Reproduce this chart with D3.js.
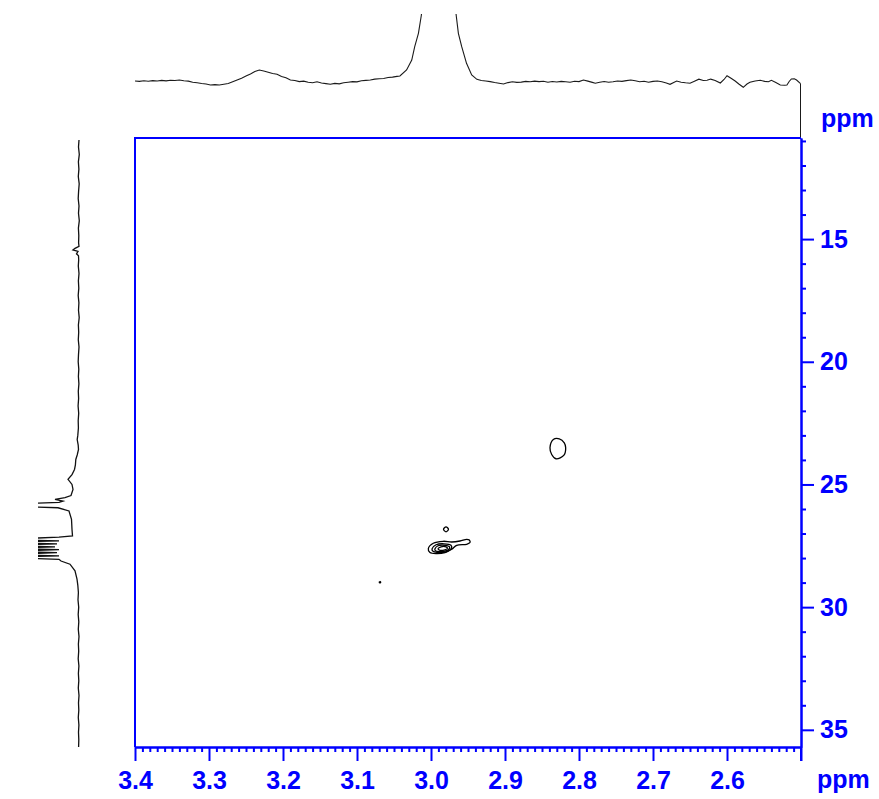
<!DOCTYPE html>
<html>
<head>
<meta charset="utf-8">
<title>HSQC</title>
<script src="https://cdn.jsdelivr.net/npm/d3@7"></script>
<style>
  body { margin: 0; background: #fff; }
  svg text { font-family: "Liberation Sans", Arial, Helvetica, sans-serif; font-weight: bold; fill: #0000ff; }
</style>
</head>
<body>
<div id="chart"></div>
<script>
// --- data ---
var hDomain = [3.4, 2.5];          // 1H ppm, left -> right
var cDomain = [10.88, 35.7];       // 13C ppm, top -> bottom
var hMajor = [3.4, 3.3, 3.2, 3.1, 3.0, 2.9, 2.8, 2.7, 2.6, 2.5];
var cMajor = [15, 20, 25, 30, 35];
var unitLabel = "ppm";

// projection on top: [1H ppm, intensity]
var topTrace = [
  [3.400, 1.0], [3.394, 0.6], [3.388, 1.2], [3.382, 0.7], [3.376, 1.4], [3.370, 1.0],
  [3.364, 1.6], [3.358, 1.1], [3.352, 1.8], [3.346, 1.5], [3.340, 2.0], [3.334, 1.2],
  [3.328, 0.9], [3.322, -0.2], [3.316, -0.8], [3.310, -1.5], [3.304, -2.0], [3.298, -3.0],
  [3.292, -2.6], [3.286, -3.0], [3.280, -2.2], [3.274, -1.5], [3.268, 0.2], [3.262, 2.0],
  [3.256, 3.8], [3.250, 6.0], [3.244, 8.0], [3.238, 10.5], [3.232, 12.0], [3.226, 11.0],
  [3.220, 9.8], [3.214, 8.5], [3.208, 7.8], [3.202, 5.5], [3.196, 4.2], [3.190, 2.0],
  [3.184, 1.5], [3.178, 0.4], [3.172, 0.9], [3.166, -0.3], [3.160, -0.7], [3.154, 0.2],
  [3.148, -1.0], [3.142, -1.6], [3.136, -2.3], [3.130, -1.4], [3.124, -1.9], [3.118, -0.8],
  [3.112, -0.2], [3.106, 0.4], [3.100, 0.1], [3.094, 1.2], [3.088, 1.6], [3.082, 2.0],
  [3.076, 2.9], [3.070, 3.2], [3.064, 3.5], [3.058, 4.5], [3.052, 4.9], [3.046, 5.6],
  [3.042, 6.0], [3.033, 12], [3.026, 22], [3.022, 35.3], [3.017, 48.7], [3.013, 67],
  [3.008, 110], [2.999, 200], [2.989, 260], [2.980, 200], [2.971, 110],
  [2.966, 67], [2.963, 48.7], [2.9585, 35.3], [2.952, 18.7], [2.945, 7],
  [2.938, 2.7], [2.932, 1.5], [2.926, 1.0], [2.920, 0.4], [2.914, -0.5], [2.908, -1.2],
  [2.902, -2.0], [2.896, -0.6], [2.890, 0.3], [2.884, -0.4], [2.878, -0.1], [2.872, 0.6],
  [2.866, 0.2], [2.860, 0.9], [2.854, 0.4], [2.848, 0.7], [2.842, -0.2], [2.836, 0.5],
  [2.830, 0.0], [2.824, 0.6], [2.818, 0.2], [2.812, -0.3], [2.806, 0.8], [2.800, 0.4],
  [2.794, 2.0], [2.788, 0.9], [2.782, -0.4], [2.778, -1.3], [2.772, -0.2], [2.766, 0.5],
  [2.760, -0.3], [2.754, 0.2], [2.748, 1.0], [2.742, 0.6], [2.736, 1.4], [2.730, 2.0],
  [2.724, 1.2], [2.718, 0.3], [2.712, 0.8], [2.706, -0.3], [2.700, 0.6], [2.694, 1.0],
  [2.688, 0.2], [2.682, -1.0], [2.677, -2.3], [2.672, -0.4], [2.668, 1.0], [2.662, -0.2],
  [2.656, -0.8], [2.650, -1.3], [2.644, 0.8], [2.638, 2.8], [2.632, 1.5], [2.627, 1.7],
  [2.622, 2.9], [2.616, 1.6], [2.609, -1.0], [2.604, 2.5], [2.600, 6.3], [2.594, 3.5],
  [2.589, 1.0], [2.584, -2.0], [2.578, -5.3], [2.573, -2.0], [2.569, -0.3], [2.562, 1.0],
  [2.555, 1.7], [2.549, 0.6], [2.544, 0.3], [2.540, 1.7], [2.534, -0.5], [2.528, -3.0],
  [2.522, -3.2], [2.519, -3.0], [2.516, 0.5], [2.513, 3.0], [2.509, 3.2], [2.506, 2.0],
  [2.501, -1.3]
];

// projection on the left: [13C ppm, intensity]
var leftTrace = [
  [10.96, 0], [11.25, 0.5], [11.55, -0.3], [11.85, 0.6], [12.15, 0.1], [12.45, 0.7],
  [12.75, -0.2], [13.05, 0.4], [13.35, 0.8], [13.65, 0.0], [13.95, 0.5], [14.25, -0.3],
  [14.55, 0.6], [14.85, 0.2], [15.15, 0.4], [15.30, 0], [15.38, 4], [15.44, 6],
  [15.50, 1], [15.60, 2.5], [15.68, 0.5], [15.84, 0.3], [16.10, 0.7], [16.40, 0.0],
  [16.70, 0.6], [17.00, 0.2], [17.30, 0.8], [17.60, 0.1], [17.90, 0.5], [18.20, -0.2],
  [18.50, 0.6], [18.80, 0.3], [19.10, 0.7], [19.40, 0.0], [19.70, 0.5], [20.00, 0.8],
  [20.30, 0.2], [20.60, 0.6], [20.90, 0.1], [21.20, 0.7], [21.50, 0.4], [21.80, 0.9],
  [22.10, 0.3], [22.40, 0.8], [22.70, 0.6], [23.00, 1.2], [23.17, 1.8], [23.40, 0.8],
  [23.57, 0.5], [23.80, 1.8], [23.98, 3.2], [24.20, 3.6], [24.39, 4.5],
  [24.60, 7], [24.79, 11], [25.00, 7], [25.20, 6], [25.45, 8], [25.54, 14],
  [25.61, 24], [25.68, 16], [25.73, 20], [25.81, 80], [25.87, 80], [25.95, 21],
  [26.08, 10], [26.42, 7.5], [26.83, 7], [27.10, 6.5], [27.15, 20], [27.24, 80],
  [27.30, 20], [27.36, 80], [27.42, 22], [27.48, 80], [27.54, 24], [27.60, 80],
  [27.66, 20], [27.72, 80], [27.78, 22], [27.85, 80], [27.91, 20], [27.97, 80],
  [28.05, 20], [28.12, 18], [28.25, 9], [28.52, 4], [28.86, 2], [29.10, 1.2],
  [29.40, 0.6], [29.70, 1.0], [30.00, 0.3], [30.30, 0.8], [30.60, 0.2], [30.90, 0.7],
  [31.20, 0.0], [31.50, 0.6], [31.80, 0.3], [32.10, 0.8], [32.40, 0.1], [32.70, 0.6],
  [33.00, 0.2], [33.30, 0.7], [33.60, 0.0], [33.90, 0.5], [34.20, 0.2], [34.50, 0.7],
  [34.80, 0.1], [35.10, 0.5], [35.40, 0.2], [35.70, 0.4]
];

// contour polygons: [1H ppm, 13C ppm]
var peakA = [
  [2.8347, 23.165], [2.8266, 23.138], [2.8199, 23.301], [2.8180, 23.504],
  [2.8203, 23.805], [2.8311, 23.952], [2.8369, 23.777], [2.8392, 23.504]
];
var peakBouter = [
  [3.0036, 27.613], [2.9969, 27.398], [2.9834, 27.316], [2.9720, 27.345],
  [2.9608, 27.304], [2.9518, 27.235], [2.9482, 27.263], [2.9473, 27.369],
  [2.9518, 27.438], [2.9653, 27.479], [2.9720, 27.642], [2.9811, 27.776],
  [2.9923, 27.817], [3.0014, 27.776]
];
var peakB2 = [
  [2.9986, 27.621], [2.9932, 27.458], [2.9824, 27.418], [2.9730, 27.479],
  [2.9723, 27.601], [2.9797, 27.743], [2.9919, 27.764], [2.9973, 27.723]
];
var peakB3 = [
  [2.9946, 27.621], [2.9905, 27.499], [2.9811, 27.479], [2.9750, 27.540],
  [2.9757, 27.642], [2.9824, 27.723], [2.9919, 27.723], [2.9946, 27.682]
];
var peakB4 = [
  [2.9905, 27.621], [2.9865, 27.540], [2.9797, 27.540], [2.9777, 27.601],
  [2.9811, 27.662], [2.9878, 27.682]
];
var peakC = [
  [2.9831, 26.828], [2.9797, 26.726], [2.9764, 26.828], [2.9797, 26.930]
];
var peakD = [
  [3.0699, 28.985], [3.0690, 28.956], [3.0680, 28.985], [3.0690, 29.013]
];
var contourSet = [peakA, peakBouter, peakB2, peakB3, peakB4, peakC, peakD];

// --- layout ---
var width = 879, height = 799;
var blue = "#0000ff";

var svg = d3.select("#chart").append("svg")
    .attr("width", width)
    .attr("height", height);

var hx = d3.scaleLinear().domain(hDomain).range([135, 801]);
var cy = d3.scaleLinear().domain(cDomain).range([138, 747]);
var topY = d3.scaleLinear().domain([0, 67]).range([82, 15]);
var leftX = d3.scaleLinear().domain([0, 41]).range([79, 38]);

var defs = svg.append("defs");
defs.append("clipPath").attr("id", "clipTop")
  .append("rect").attr("x", 130).attr("y", 14).attr("width", 680).attr("height", 124);
defs.append("clipPath").attr("id", "clipLeft")
  .append("rect").attr("x", 38).attr("y", 136).attr("width", 95).attr("height", 620);

// top projection
svg.append("path")
    .datum(topTrace)
    .attr("clip-path", "url(#clipTop)")
    .attr("fill", "none")
    .attr("stroke", "#1a1a1a")
    .attr("stroke-width", 1.1)
    .attr("d", d3.line().x(function (d) { return hx(d[0]); }).y(function (d) { return topY(d[1]); }));

var last = topTrace[topTrace.length - 1];
svg.append("line")
    .attr("x1", hx(hDomain[1]) - 0.5).attr("x2", hx(hDomain[1]) - 0.5)
    .attr("y1", topY(last[1])).attr("y2", cy(cDomain[0]))
    .attr("stroke", "#1a1a1a").attr("stroke-width", 1);

// left projection
svg.append("path")
    .datum(leftTrace)
    .attr("clip-path", "url(#clipLeft)")
    .attr("fill", "none")
    .attr("stroke", "#111")
    .attr("stroke-width", 1.3)
    .attr("d", d3.line().x(function (d) { return leftX(d[1]); }).y(function (d) { return cy(d[0]); }));

// contours
var contourLine = d3.line()
    .x(function (d) { return hx(d[0]); })
    .y(function (d) { return cy(d[1]); })
    .curve(d3.curveCatmullRomClosed);

svg.append("g").selectAll("path")
    .data(contourSet)
  .enter().append("path")
    .attr("fill", "none")
    .attr("stroke", "#000")
    .attr("stroke-width", 1.3)
    .attr("d", contourLine);

// frame
svg.append("line")
    .attr("x1", hx(hDomain[0])).attr("x2", hx(hDomain[0]))
    .attr("y1", cy(cDomain[0])).attr("y2", cy(cDomain[1]))
    .attr("stroke", blue).attr("stroke-width", 2);
svg.append("line")
    .attr("x1", hx(hDomain[0]) - 1).attr("x2", hx(hDomain[1]))
    .attr("y1", cy(cDomain[0])).attr("y2", cy(cDomain[0]))
    .attr("stroke", blue).attr("stroke-width", 2);

// bottom axis
var hMinor = d3.range(251, 340).map(function (i) { return i / 100; })
    .filter(function (v) { return Math.round(v * 100) % 10 !== 0; });

var bottomMinor = svg.append("g")
    .attr("transform", "translate(0," + cy(cDomain[1]) + ")")
    .call(d3.axisBottom(hx).tickValues(hMinor).tickSize(5).tickSizeOuter(0).tickFormat(""));

var bottomAxis = svg.append("g")
    .attr("transform", "translate(0," + cy(cDomain[1]) + ")")
    .call(d3.axisBottom(hx).tickValues(hMajor).tickSize(14).tickSizeOuter(0).tickPadding(10)
      .tickFormat(function (d) { return d === hDomain[1] ? "" : d3.format(".1f")(d); }));

// right axis
var cMinor = d3.range(11, 36).filter(function (v) { return v % 5 !== 0; });

var rightMinor = svg.append("g")
    .attr("transform", "translate(" + hx(hDomain[1]) + ",0)")
    .call(d3.axisRight(cy).tickValues(cMinor).tickSize(5).tickSizeOuter(0).tickFormat(""));

var rightAxis = svg.append("g")
    .attr("transform", "translate(" + hx(hDomain[1]) + ",0)")
    .call(d3.axisRight(cy).tickValues(cMajor).tickSize(13).tickSizeOuter(0).tickPadding(6));

[bottomMinor, bottomAxis, rightMinor, rightAxis].forEach(function (g) {
  g.select(".domain").attr("stroke", blue).attr("stroke-width", 2);
  g.selectAll(".tick line").attr("stroke", blue).attr("stroke-width", 2);
  g.selectAll(".tick text")
    .attr("fill", blue)
    .style("font-size", "25px")
    .style("font-family", "'Liberation Sans', Arial, sans-serif")
    .style("font-weight", "bold");
});

// right axis line runs down to the corner tick
svg.append("line")
    .attr("x1", hx(hDomain[1])).attr("x2", hx(hDomain[1]))
    .attr("y1", cy(cDomain[1])).attr("y2", cy(cDomain[1]) + 14)
    .attr("stroke", blue).attr("stroke-width", 2);

// units
svg.append("text")
    .attr("x", 821).attr("y", 127)
    .style("font-size", "25px")
    .text(unitLabel);
svg.append("text")
    .attr("x", 817).attr("y", 788)
    .style("font-size", "25px")
    .text(unitLabel);
</script>
</body>
</html>
